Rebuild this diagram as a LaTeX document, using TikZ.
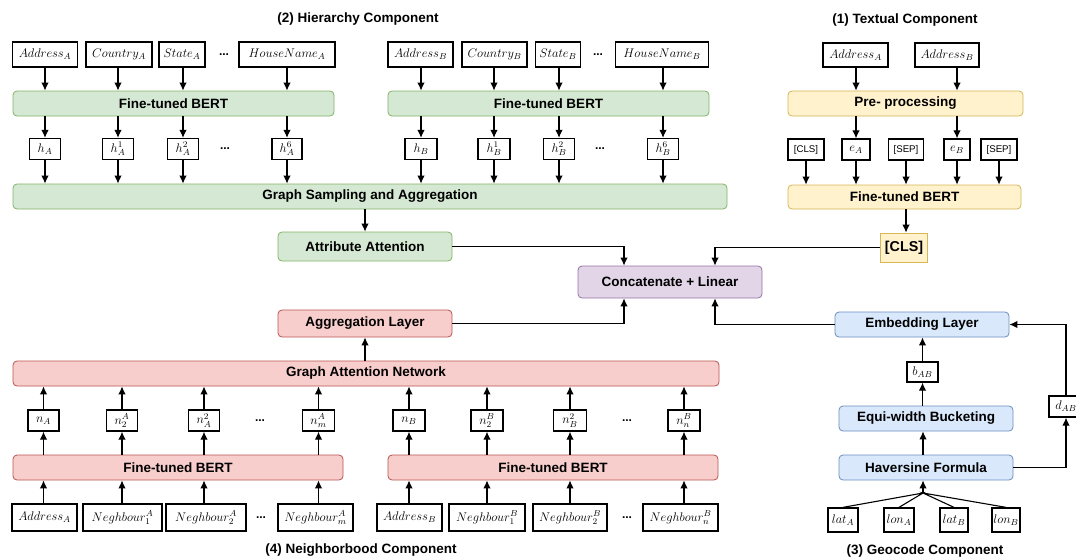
\RequirePackage{fix-cm}
\documentclass[tikz,border=0pt]{standalone}
\usepackage{amsmath}
\usepackage{fontspec}
\setmainfont{Liberation Sans}
\usetikzlibrary{arrows.meta}
\definecolor{grnfill}{HTML}{D5E8D4}
\definecolor{grnline}{HTML}{82B366}
\definecolor{ylwfill}{HTML}{FFF2CC}
\definecolor{ylwline}{HTML}{D6B656}
\definecolor{rosefill}{HTML}{F8CECC}
\definecolor{roseline}{HTML}{B85450}
\definecolor{blufill}{HTML}{DAE8FC}
\definecolor{bluline}{HTML}{6C8EBF}
\definecolor{prpfill}{HTML}{E1D5E7}
\definecolor{prpline}{HTML}{9673A6}

\begin{document}
\begin{tikzpicture}[x=1pt, y=-1pt,
    lbl/.style={font=\fontsize{13.5}{16}\selectfont\bfseries},
    layer/.style={lbl, rounded corners=4pt, line width=0.8pt, inner sep=0pt, minimum height=25pt},
    grn/.style={layer, draw=grnline, fill=grnfill},
    ylw/.style={layer, draw=ylwline, fill=ylwfill},
    rose/.style={layer, draw=roseline, fill=rosefill},
    blu/.style={layer, draw=bluline, fill=blufill},
    prp/.style={layer, draw=prpline, fill=prpfill},
    var/.style={draw, line width=1.3pt, fill=white, inner sep=0pt, minimum height=25pt, font=\fontsize{12.5}{14}\selectfont},
    tok/.style={var, minimum height=21pt},
    sym/.style={var, font=\fontsize{9.7}{11}\selectfont},
    dots/.style={font=\fontsize{12}{14}\selectfont\bfseries},
    arr/.style={-{Latex[length=8pt, width=7.5pt]}, line width=1.1pt}]
  \useasboundingbox (0,0) rectangle (1076,557);

  \node[lbl] (ttlH) at (358,19) {(2) Hierarchy Component};
  \node[lbl] (ttlT) at (905,20) {(1) Textual Component};
  \node[lbl] (ttlN) at (361,550) {(4) Neighborbood Component};
  \node[lbl] (ttlG) at (925,551) {(3) Geocode Component};

  \node[var, minimum width=65pt] (adrHA) at (45,54.5) {$Address_A$};
  \node[var, minimum width=66pt] (cntHA) at (119,54.5) {$Country_A$};
  \node[var, minimum width=46pt] (sttHA) at (182,54.5) {$State_A$};
  \node[dots] (dtHA) at (224,54.5) {...};
  \node[var, minimum width=96pt] (hseHA) at (287,54.5) {$HouseName_A$};
  \node[grn, minimum width=321pt] (bertHA) at (173.5,103.5) {Fine-tuned BERT};
  \node[tok, minimum width=31pt] (hA0) at (45,149) {$h_A$};
  \node[tok, minimum width=31pt] (hA1) at (118,149) {$h_A^1$};
  \node[tok, minimum width=31pt] (hA2) at (183,149) {$h_A^2$};
  \node[dots] (dtA) at (225,149) {...};
  \node[tok, minimum width=30pt] (hA6) at (287,149) {$h_A^6$};

  \node[var, minimum width=65pt] (adrHB) at (420.5,54.5) {$Address_B$};
  \node[var, minimum width=65pt] (cntHB) at (494.5,54.5) {$Country_B$};
  \node[var, minimum width=45pt] (sttHB) at (558,54.5) {$State_B$};
  \node[dots] (dtHB) at (598,54.5) {...};
  \node[var, minimum width=93pt] (hseHB) at (662,54.5) {$HouseName_B$};
  \node[grn, minimum width=321pt] (bertHB) at (548.5,103.5) {Fine-tuned BERT};
  \node[tok, minimum width=32pt] (hB0) at (421,149) {$h_B$};
  \node[tok, minimum width=32pt] (hB1) at (494,149) {$h_B^1$};
  \node[tok, minimum width=31pt] (hB2) at (559,149) {$h_B^2$};
  \node[dots] (dtB) at (600,149) {...};
  \node[tok, minimum width=31pt] (hB6) at (663,149) {$h_B^6$};

  \node[grn, minimum width=714pt] (gsa) at (370,196.5) {Graph Sampling and Aggregation};
  \node[grn, minimum width=174pt, minimum height=29pt] (attn) at (365,246.5) {Attribute Attention};

  \draw[arr] (adrHA.south -| hA0) -- (bertHA.north -| hA0);
  \draw[arr] (cntHA.south -| hA1) -- (bertHA.north -| hA1);
  \draw[arr] (sttHA.south -| hA2) -- (bertHA.north -| hA2);
  \draw[arr] (hseHA.south -| hA6) -- (bertHA.north -| hA6);
  \draw[arr] (bertHA.south -| hA0) -- (hA0);
  \draw[arr] (bertHA.south -| hA1) -- (hA1);
  \draw[arr] (bertHA.south -| hA2) -- (hA2);
  \draw[arr] (bertHA.south -| hA6) -- (hA6);
  \draw[arr] (hA0) -- (gsa.north -| hA0);
  \draw[arr] (hA1) -- (gsa.north -| hA1);
  \draw[arr] (hA2) -- (gsa.north -| hA2);
  \draw[arr] (hA6) -- (gsa.north -| hA6);
  \draw[arr] (adrHB.south -| hB0) -- (bertHB.north -| hB0);
  \draw[arr] (cntHB.south -| hB1) -- (bertHB.north -| hB1);
  \draw[arr] (sttHB.south -| hB2) -- (bertHB.north -| hB2);
  \draw[arr] (hseHB.south -| hB6) -- (bertHB.north -| hB6);
  \draw[arr] (bertHB.south -| hB0) -- (hB0);
  \draw[arr] (bertHB.south -| hB1) -- (hB1);
  \draw[arr] (bertHB.south -| hB2) -- (hB2);
  \draw[arr] (bertHB.south -| hB6) -- (hB6);
  \draw[arr] (hB0) -- (gsa.north -| hB0);
  \draw[arr] (hB1) -- (gsa.north -| hB1);
  \draw[arr] (hB2) -- (gsa.north -| hB2);
  \draw[arr] (hB6) -- (gsa.north -| hB6);
  \draw[arr] (gsa.south -| attn) -- (attn);

  \node[var, minimum width=65pt, minimum height=24pt] (adrTA) at (855.5,55) {$Address_A$};
  \node[var, minimum width=64pt, minimum height=24pt] (adrTB) at (947,55) {$Address_B$};
  \node[ylw, minimum width=235pt] (pre) at (905.5,103.5) {Pre- processing};
  \node[sym, minimum width=36pt, minimum height=21pt] (clsI) at (806,149.5) {[CLS]};
  \node[tok, minimum width=28pt] (eA) at (856,149.5) {$e_A$};
  \node[sym, minimum width=35pt, minimum height=21pt] (sepA) at (906,149.5) {[SEP]};
  \node[tok, minimum width=26pt] (eB) at (957,149.5) {$e_B$};
  \node[sym, minimum width=36pt, minimum height=21pt] (sepB) at (999,149.5) {[SEP]};
  \node[ylw, minimum width=233pt, minimum height=24pt] (bertT) at (904.5,197) {Fine-tuned BERT};
  \node[ylw, rounded corners=0pt, minimum width=47pt, minimum height=29pt, font=\fontsize{14.3}{16}\selectfont\bfseries] (clsO) at (904,247.5) {[CLS]};

  \draw[arr] (adrTA.south -| eA) -- (pre.north -| eA);
  \draw[arr] (adrTB.south -| eB) -- (pre.north -| eB);
  \draw[arr] (pre.south -| eA) -- (eA);
  \draw[arr] (pre.south -| eB) -- (eB);
  \draw[arr] (clsI) -- (bertT.north -| clsI);
  \draw[arr] (eA) -- (bertT.north -| eA);
  \draw[arr] (sepA) -- (bertT.north -| sepA);
  \draw[arr] (eB) -- (bertT.north -| eB);
  \draw[arr] (sepB) -- (bertT.north -| sepB);
  \draw[arr] (bertT.south -| sepA) -- (clsO.north -| sepA);

  \node[prp, minimum width=184pt, minimum height=32pt] (cat) at (670,282) {Concatenate + Linear};

  \node[rose, minimum width=174pt, minimum height=27pt] (agg) at (365,323.5) {Aggregation Layer};
  \node[rose, minimum width=706pt] (gat) at (366,373.5) {Graph Attention Network};
  \node[tok, minimum width=31pt] (nA0) at (43.5,420.5) {$n_A$};
  \node[tok, minimum width=31pt] (nA1) at (122,420.5) {$n_2^A$};
  \node[tok, minimum width=31pt] (nA2) at (204,420.5) {$n_A^2$};
  \node[dots] (dtNA) at (260,420.5) {...};
  \node[tok, minimum width=32pt] (nAm) at (318.5,420.5) {$n_m^A$};
  \node[tok, minimum width=32pt] (nB0) at (409,420.5) {$n_B$};
  \node[tok, minimum width=32pt] (nB1) at (487,420.5) {$n_2^B$};
  \node[tok, minimum width=33pt] (nB2) at (570,420.5) {$n_B^2$};
  \node[dots] (dtNB) at (627,420.5) {...};
  \node[tok, minimum width=32pt] (nBn) at (684,420.5) {$n_n^B$};
  \node[rose, minimum width=330pt] (bertNA) at (178,467.5) {Fine-tuned BERT};
  \node[rose, minimum width=330pt] (bertNB) at (553,467.5) {Fine-tuned BERT};
  \node[var, minimum width=65pt, minimum height=27pt] (adrNA) at (44.5,517.5) {$Address_A$};
  \node[var, minimum width=79pt, minimum height=27pt] (ngA1) at (122.5,517.5) {$Neghbour_1^A$};
  \node[var, minimum width=80pt, minimum height=27pt] (ngA2) at (206,517.5) {$Neghbour_2^A$};
  \node[dots] (dtGA) at (261,517.5) {...};
  \node[var, minimum width=75pt, minimum height=27pt] (ngAm) at (315.5,517.5) {$Neghbour_m^A$};
  \node[var, minimum width=65pt, minimum height=27pt] (adrNB) at (409.5,517.5) {$Address_B$};
  \node[var, minimum width=76pt, minimum height=27pt] (ngB1) at (487,517.5) {$Neghbour_1^B$};
  \node[var, minimum width=74pt, minimum height=27pt] (ngB2) at (570,517.5) {$Neghbour_2^B$};
  \node[dots] (dtGB) at (627,517.5) {...};
  \node[var, minimum width=75pt, minimum height=27pt] (ngBn) at (680.5,517.5) {$Neghbour_n^B$};

  \draw[arr] (adrNA.north -| nA0) -- (bertNA.south -| nA0);
  \draw[arr] (ngA1.north -| nA1) -- (bertNA.south -| nA1);
  \draw[arr] (ngA2.north -| nA2) -- (bertNA.south -| nA2);
  \draw[arr] (ngAm.north -| nAm) -- (bertNA.south -| nAm);
  \draw[arr] (bertNA.north -| nA0) -- (nA0);
  \draw[arr] (bertNA.north -| nA1) -- (nA1);
  \draw[arr] (bertNA.north -| nA2) -- (nA2);
  \draw[arr] (bertNA.north -| nAm) -- (nAm);
  \draw[arr] (nA0) -- (gat.south -| nA0);
  \draw[arr] (nA1) -- (gat.south -| nA1);
  \draw[arr] (nA2) -- (gat.south -| nA2);
  \draw[arr] (nAm) -- (gat.south -| nAm);
  \draw[arr] (adrNB.north -| nB0) -- (bertNB.south -| nB0);
  \draw[arr] (ngB1.north -| nB1) -- (bertNB.south -| nB1);
  \draw[arr] (ngB2.north -| nB2) -- (bertNB.south -| nB2);
  \draw[arr] (ngBn.north -| nBn) -- (bertNB.south -| nBn);
  \draw[arr] (bertNB.north -| nB0) -- (nB0);
  \draw[arr] (bertNB.north -| nB1) -- (nB1);
  \draw[arr] (bertNB.north -| nB2) -- (nB2);
  \draw[arr] (bertNB.north -| nBn) -- (nBn);
  \draw[arr] (nB0) -- (gat.south -| nB0);
  \draw[arr] (nB1) -- (gat.south -| nB1);
  \draw[arr] (nB2) -- (gat.south -| nB2);
  \draw[arr] (nBn) -- (gat.south -| nBn);
  \draw[arr] (gat.north -| agg) -- (agg);

  \node[blu, minimum width=174pt] (emb) at (922,324.5) {Embedding Layer};
  \node[tok, minimum width=31pt, minimum height=20pt] (bAB) at (922.5,372) {$b_{AB}$};
  \node[blu, minimum width=174pt] (equi) at (926,418.5) {Equi-width Bucketing};
  \node[blu, minimum width=174pt] (hav) at (926,467.5) {Haversine Formula};
  \node[tok, minimum width=34pt] (dAB) at (1066,406.5) {$d_{AB}$};
  \node[var, minimum width=30pt, minimum height=24pt] (latA) at (843,520) {$lat_A$};
  \node[var, minimum width=30pt, minimum height=24pt] (lonA) at (899,520) {$lon_A$};
  \node[var, minimum width=28pt, minimum height=24pt] (latB) at (954,520) {$lat_B$};
  \node[var, minimum width=28pt, minimum height=24pt] (lonB) at (1006,520) {$lon_B$};
  \coordinate (jn) at (923,493);

  \draw[line width=1.1pt] (latA.north) -- (jn) -- (lonA.north);
  \draw[line width=1.1pt] (latB.north) -- (jn) -- (lonB.north);
  \draw[arr] (jn) -- (hav.south -| jn);
  \draw[arr] (hav.north -| jn) -- (equi.south -| jn);
  \draw[arr] (equi.north -| bAB) -- (bAB);
  \draw[arr] (bAB) -- (emb.south -| bAB);
  \draw[arr] (hav.east) -| (dAB.south);
  \draw[arr] (dAB.north) |- (emb.east);

  \draw[arr] (attn.east) -| ([xshift=-46pt]cat.north);
  \draw[arr] (clsO.west) -| ([xshift=45pt]cat.north);
  \draw[arr] (agg.east) -| ([xshift=-46pt]cat.south);
  \draw[arr] (emb.west) -| ([xshift=45pt]cat.south);
\end{tikzpicture}
\end{document}
